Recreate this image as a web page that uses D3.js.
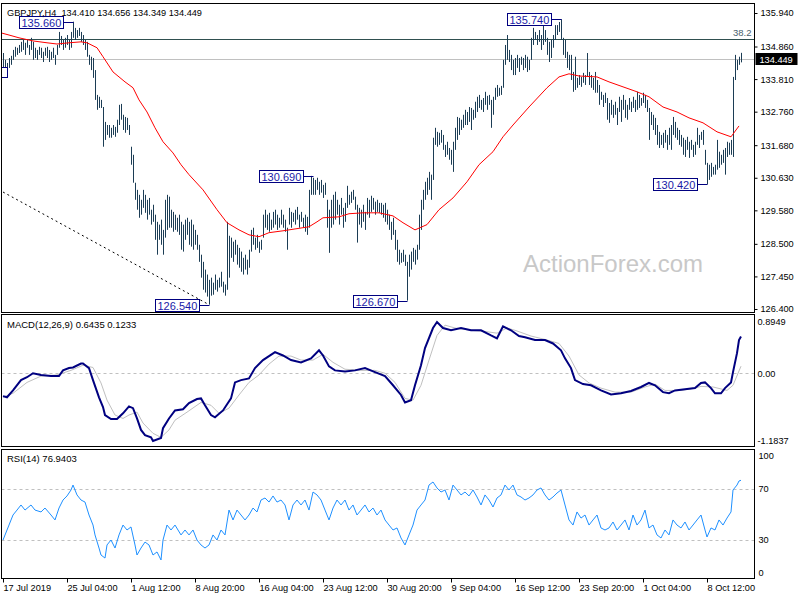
<!DOCTYPE html>
<html><head><meta charset="utf-8">
<script src="https://cdn.jsdelivr.net/npm/d3@7"></script>
<style>
body{margin:0;background:#fff}
svg{display:block}
text{font-family:"Liberation Sans",Arial,sans-serif}
</style>
</head><body><svg id="c" width="800" height="600"></svg>
<script>
// ---------------- DATA ----------------
const chartTitle = "GBPJPY,H4\u00A0\u00A0134.410 134.656 134.349 134.449";
const macdTitle = "MACD(12,26,9) 0.6435 0.1233";
const rsiTitle = "RSI(14) 76.9403";
const watermark = "ActionForex.com";

const high = [
134.65,134.43,134.33,134.49,134.56,134.75,134.85,134.82,134.91,135.01,
135.07,134.98,135.07,134.91,135.14,135.01,134.82,134.75,134.85,134.82,
134.69,134.82,134.85,134.75,134.69,134.82,134.59,134.91,135.33,135.20,
135.07,135.14,135.23,135.07,135.33,135.66,135.46,135.39,135.46,135.33,
135.23,135.07,135.01,134.59,134.53,134.49,134.10,133.30,133.24,133.14,
132.91,132.43,132.33,132.33,132.24,132.33,132.27,132.50,132.98,133.01,
132.66,132.59,132.56,132.33,131.63,131.37,130.47,130.24,130.08,129.92,
130.24,130.08,129.92,129.98,129.60,129.76,129.44,129.21,129.12,129.28,
128.95,129.92,130.08,130.02,129.60,129.53,129.44,129.34,129.44,129.21,
129.12,129.28,129.34,129.21,129.28,129.12,128.95,128.79,128.47,128.15,
127.92,127.67,127.51,127.34,127.41,127.25,127.51,127.34,127.41,127.60,
127.28,127.19,129.21,128.76,128.70,128.57,128.63,128.47,128.37,128.25,
128.05,128.15,127.99,128.31,128.95,129.02,128.70,128.79,128.57,128.63,
129.44,129.60,129.44,129.50,129.28,129.53,129.60,129.44,129.34,129.60,
129.44,129.28,129.02,129.66,129.53,129.50,129.60,129.69,129.44,129.53,
129.34,129.44,129.37,130.24,130.69,130.63,130.56,130.63,130.50,130.56,
130.40,130.47,129.92,129.60,129.92,130.08,130.18,129.92,129.76,129.98,
129.66,129.82,130.37,130.08,130.18,130.24,130.02,129.76,129.66,129.60,
129.76,129.53,129.98,129.92,130.05,129.98,129.86,129.92,129.82,129.82,
129.76,129.82,129.60,129.44,129.21,129.34,128.95,128.63,128.31,128.21,
128.31,128.15,127.92,128.15,128.25,128.37,128.31,128.47,129.44,129.92,
130.24,130.50,130.63,130.82,130.73,131.92,132.24,132.11,132.08,132.17,
132.01,131.69,131.79,131.59,131.53,131.79,132.24,132.59,132.56,132.50,
132.66,132.82,132.75,132.91,132.88,132.82,133.08,133.24,133.30,133.14,
133.20,133.40,133.27,133.30,133.14,133.24,133.53,133.62,133.53,133.59,
134.43,134.91,135.23,134.75,134.59,134.43,134.49,134.59,134.49,134.53,
134.49,134.59,134.53,134.43,135.14,135.46,135.33,135.23,135.39,135.23,
135.72,135.39,135.14,135.01,135.07,135.23,135.55,135.55,135.65,135.74,
135.14,135.07,134.69,134.59,134.59,134.04,134.53,133.85,133.94,133.88,
134.01,133.94,134.65,134.04,133.94,133.85,134.04,133.78,133.62,133.40,
133.30,133.37,133.20,133.04,133.14,132.98,133.08,132.88,133.24,133.14,
133.30,133.14,132.98,133.20,133.08,133.24,133.14,133.40,133.30,133.20,
133.37,133.30,133.14,132.88,132.75,132.66,132.56,132.33,132.11,132.01,
132.08,132.17,132.01,132.24,132.33,132.59,132.43,132.24,132.17,132.01,
131.92,131.85,131.95,131.79,131.85,131.69,131.79,132.24,132.01,132.11,
132.17,131.53,131.11,131.05,131.11,130.98,131.05,131.85,131.47,131.37,
131.53,131.59,131.79,131.76,131.85,133.88,134.59,134.43,134.53,134.656];

const low = [
134.20,133.88,133.94,134.17,134.27,134.43,134.53,134.59,134.65,134.69,
134.75,134.59,134.82,134.59,134.75,134.43,134.49,134.43,134.59,134.49,
134.36,134.56,134.49,134.36,134.43,134.49,134.27,134.59,134.82,134.91,
134.75,134.82,134.91,134.75,134.82,135.14,135.07,135.14,135.20,135.01,
134.91,134.75,134.53,134.27,134.10,133.85,133.14,132.82,132.88,132.88,
131.63,131.85,132.01,131.92,131.92,132.01,131.95,132.08,132.33,132.50,
132.17,132.08,132.17,132.01,131.05,130.47,129.92,129.60,129.34,129.44,
129.66,129.50,129.28,129.44,129.12,129.21,128.63,128.15,128.63,128.47,
128.15,128.70,128.95,129.02,129.02,128.89,128.95,128.89,128.79,128.31,
128.25,128.63,128.79,128.47,128.41,128.31,128.47,128.31,127.92,127.41,
127.02,126.93,126.80,126.54,126.83,126.86,127.02,126.96,127.09,127.12,
126.93,126.83,127.02,127.41,128.05,127.92,128.15,127.83,127.73,127.60,
127.51,127.67,127.51,127.73,128.25,128.47,128.31,128.37,128.21,128.31,
128.70,129.02,128.95,128.89,128.95,129.02,129.12,128.95,129.02,129.12,
129.02,128.89,128.31,129.12,129.02,129.21,129.12,129.28,129.02,129.21,
129.02,128.89,128.79,129.02,130.08,130.08,130.08,130.24,130.08,130.15,
129.98,130.08,129.02,128.21,129.02,129.12,129.28,129.44,129.12,129.44,
129.02,129.21,129.66,129.76,129.82,129.92,129.60,128.54,129.12,129.02,
129.21,128.95,129.44,129.34,129.53,129.60,129.44,129.53,129.50,129.44,
129.34,129.21,129.12,128.95,128.63,128.79,128.31,127.92,127.83,127.89,
127.92,127.79,126.67,127.44,127.67,127.92,127.83,127.99,128.31,128.95,
129.60,129.92,130.08,130.24,129.92,130.56,131.69,131.63,131.69,131.76,
131.53,131.30,131.37,131.21,131.05,130.82,131.53,131.85,132.01,132.17,
132.24,132.33,132.33,132.43,132.17,132.50,132.56,132.75,132.88,132.82,
132.75,132.98,132.82,132.98,132.24,132.66,133.14,133.24,133.27,133.30,
133.53,134.27,134.43,134.36,134.10,133.94,133.94,134.17,134.04,134.27,
134.10,134.17,134.04,134.10,134.43,134.91,135.07,134.91,135.01,134.75,
134.91,135.01,134.59,134.36,134.49,134.82,135.07,135.23,135.33,135.07,
134.59,134.49,134.17,134.10,133.78,133.40,133.46,133.53,133.62,133.56,
133.69,133.62,133.88,133.62,133.53,133.46,133.37,133.37,132.98,133.14,
132.91,133.04,132.50,132.40,132.66,132.56,132.66,132.33,132.75,132.43,
132.82,132.56,132.50,132.82,132.75,132.88,132.75,132.82,132.88,132.95,
133.04,132.88,132.75,131.85,132.33,132.17,132.01,131.69,131.59,131.69,
131.59,131.76,131.53,131.69,131.53,132.01,131.92,131.85,131.69,131.63,
131.37,131.30,131.53,131.27,131.53,131.30,131.37,131.69,131.59,131.85,
131.69,131.05,130.42,130.56,130.66,130.73,130.73,130.89,130.95,131.05,
131.11,130.73,131.30,131.37,131.37,131.30,133.78,134.10,134.27,134.349];

// moving average (red), [bar index, price]
const maPts = [[-1,135.30],[3,135.23],[8,135.14],[15,135.04],[22,134.98],[27,134.94],[33,134.98],[39,135.01],[42,134.98],[47,134.82],
[50,134.53],[55,134.04],[61,133.72],[65,133.53],[68,133.14],[72,132.75],[76,132.24],[80,131.79],[85,131.43],[89,131.05],
[93,130.73],[100,130.24],[107,129.60],[112,129.18],[118,128.95],[123,128.79],[128,128.73],[133,128.86],[140,128.92],[147,128.99],
[153,129.05],[157,129.21],[160,129.34],[168,129.37],[173,129.47],[180,129.50],[188,129.50],[195,129.40],[200,129.18],[206,128.95],
[212,129.12],[218,129.60],[225,129.98],[232,130.50],[238,131.05],[245,131.47],[250,131.95],[255,132.33],[263,132.91],[272,133.53],
[278,133.88],[283,133.98],[288,133.91],[297,133.88],[303,133.72],[310,133.56],[317,133.40],[323,133.24],[330,132.91],[337,132.75],
[343,132.56],[350,132.40],[357,132.11],[364,131.95],[368,132.30]];

// MACD main line (navy)
const macdPts = [[0,-0.40],[2,-0.42],[5,-0.30],[9,-0.12],[12,-0.07],[15,0.00],[19,-0.03],[24,-0.05],[28,-0.05],[30,0.05],
[33,0.09],[35,0.10],[39,0.17],[40,0.17],[43,0.09],[45,-0.12],[48,-0.42],[50,-0.59],[51,-0.73],[54,-0.80],
[57,-0.80],[60,-0.70],[63,-0.58],[65,-0.61],[67,-0.79],[69,-0.99],[71,-1.08],[74,-1.12],[75,-1.1837],[79,-1.13],
[80,-0.96],[83,-0.79],[86,-0.65],[90,-0.63],[93,-0.52],[97,-0.45],[99,-0.44],[101,-0.56],[104,-0.73],[106,-0.77],
[110,-0.65],[114,-0.44],[116,-0.16],[119,-0.12],[123,-0.09],[126,0.09],[130,0.23],[133,0.30],[136,0.37],[140,0.31],
[144,0.23],[149,0.19],[154,0.26],[158,0.40],[160,0.31],[163,0.12],[166,0.05],[171,0.03],[176,0.05],[181,0.09],
[186,0.02],[191,-0.05],[195,-0.21],[199,-0.38],[201,-0.51],[204,-0.47],[206,-0.21],[209,0.14],[211,0.44],[215,0.79],
[217,0.8949],[220,0.79],[224,0.75],[229,0.79],[234,0.75],[239,0.75],[244,0.66],[247,0.61],[250,0.82],[254,0.75],
[258,0.65],[261,0.63],[266,0.58],[271,0.58],[275,0.52],[279,0.40],[281,0.26],[284,0.09],[286,-0.12],[290,-0.19],
[294,-0.21],[299,-0.30],[304,-0.37],[309,-0.35],[314,-0.31],[319,-0.24],[323,-0.17],[326,-0.21],[330,-0.33],[333,-0.35],
[336,-0.30],[341,-0.28],[346,-0.26],[349,-0.17],[351,-0.16],[354,-0.26],[356,-0.35],[359,-0.35],[361,-0.26],[364,-0.16],
[365,0.02],[367,0.35],[368,0.58],[369,0.6435]];

// MACD signal line (silver)
const signalPts = [[0,-0.42],[5,-0.35],[12,-0.16],[19,-0.05],[27,-0.03],[34,0.05],[40,0.14],[45,0.10],[49,-0.17],[52,-0.47],
[56,-0.73],[60,-0.79],[63,-0.73],[67,-0.68],[70,-0.87],[75,-1.05],[79,-1.12],[83,-0.99],[86,-0.82],[92,-0.68],
[99,-0.51],[104,-0.56],[108,-0.70],[113,-0.61],[118,-0.38],[123,-0.16],[128,-0.03],[133,0.16],[138,0.30],[144,0.30],
[149,0.23],[155,0.23],[160,0.33],[165,0.19],[171,0.07],[179,0.05],[186,0.05],[191,0.00],[196,-0.16],[201,-0.44],
[205,-0.47],[209,-0.21],[213,0.23],[217,0.66],[221,0.84],[226,0.79],[234,0.75],[241,0.73],[247,0.70],[252,0.79],
[256,0.75],[264,0.65],[271,0.59],[278,0.52],[283,0.30],[288,-0.03],[293,-0.17],[299,-0.26],[306,-0.33],[314,-0.33],
[321,-0.24],[326,-0.19],[331,-0.30],[339,-0.30],[346,-0.26],[349,-0.23],[355,-0.24],[362,-0.30],[365,-0.21],[369,0.1233]];

// RSI(14)
const rsiPts = [[0,29.9],[3,41.7],[5,49.6],[7,53.5],[9,57.5],[11,53.5],[14,57.5],[16,53.5],[19,52.0],[21,55.1],
[24,49.6],[26,45.7],[28,55.1],[30,61.4],[32,64.6],[34,69.3],[35,73.2],[37,65.4],[39,61.4],[41,59.8],
[43,49.6],[45,41.7],[46,33.9],[48,23.6],[49,18.1],[51,15.7],[52,26.0],[54,29.9],[56,23.6],[58,33.9],
[60,41.7],[62,37.8],[64,40.2],[66,26.0],[67,18.1],[69,23.6],[71,28.3],[73,26.0],[75,18.1],[77,20.5],
[79,14.2],[80,29.9],[82,41.7],[84,37.8],[86,41.7],[89,33.9],[91,37.8],[93,33.9],[95,37.8],[97,29.9],
[99,26.0],[101,23.6],[103,26.0],[105,33.9],[107,29.9],[109,37.8],[111,33.9],[113,53.5],[115,45.7],[117,53.5],
[119,49.6],[121,45.7],[123,49.6],[125,55.1],[127,52.0],[129,61.4],[131,63.0],[133,59.8],[135,64.6],[137,59.8],
[139,61.4],[141,57.5],[143,45.7],[145,57.5],[147,61.4],[149,57.5],[151,61.4],[153,53.5],[155,67.7],[157,65.4],
[159,61.4],[161,53.5],[163,45.7],[165,55.1],[167,61.4],[169,57.5],[171,61.4],[173,53.5],[175,57.5],[177,49.6],
[179,53.5],[181,57.5],[183,52.0],[185,55.1],[187,49.6],[189,53.5],[191,45.7],[193,41.7],[195,37.8],[197,39.4],
[199,31.5],[201,26.0],[203,33.9],[205,41.7],[207,53.5],[209,57.5],[211,61.4],[213,73.2],[215,75.6],[217,70.9],
[219,67.7],[221,69.3],[223,61.4],[225,73.2],[227,69.3],[229,65.4],[231,67.7],[233,64.6],[235,69.3],[237,63.8],
[239,57.5],[241,65.4],[243,61.4],[245,55.9],[247,63.0],[249,65.4],[251,73.2],[253,69.3],[255,73.2],[257,65.4],
[259,63.8],[261,61.4],[263,63.0],[265,65.4],[267,69.3],[269,70.9],[271,65.4],[273,61.4],[275,63.8],[277,66.9],
[279,69.3],[281,57.5],[283,45.7],[285,41.7],[287,52.0],[289,47.2],[291,49.6],[293,41.7],[295,45.7],[297,49.6],
[299,39.4],[301,37.8],[303,39.4],[305,44.1],[307,37.8],[309,41.7],[311,45.7],[313,37.8],[315,49.6],[317,41.7],
[319,45.7],[321,53.5],[323,39.4],[325,41.7],[327,33.9],[329,31.5],[331,37.8],[333,33.9],[335,45.7],[337,41.7],
[339,39.4],[341,44.1],[343,37.8],[345,41.7],[347,45.7],[349,49.6],[351,37.8],[352,32.3],[354,39.4],[356,37.8],
[358,45.7],[360,41.7],[362,47.2],[364,52.0],[365,69.3],[367,73.2],[368,76.4],[369,76.94]];

// axes / annotations
const priceTicks = [135.940,134.860,133.810,132.760,131.680,130.630,129.580,128.500,127.450,126.400];
const macdTicks = [0.8949, 0, -1.1837];
const macdTickLabels = ["0.8949","0.00","-1.1837"];
const rsiTicks = [100,70,30,0];
const rsiLevels = [70,30];
const timeTickIdx = [0,32,64,96,128,160,192,224,256,288,320,352];
const timeTickLabels = ["17 Jul 2019","25 Jul 04:00","1 Aug 12:00","8 Aug 20:00","16 Aug 04:00","23 Aug 12:00","30 Aug 20:00","9 Sep 04:00","16 Sep 12:00","23 Sep 20:00","1 Oct 04:00","8 Oct 12:00"];
const fibLevel = 135.10, fibLabel = "38.2";
const lastPrice = 134.449;
const trendPts = [[0,130.17],[103,126.54]];
const swingIdx = [35,103,155,202,279,352];
const swingVal = [135.66,126.54,130.69,126.67,135.74,130.42];
const cutBox = [134.20,133.88];

// ---------------- DRAW ----------------
const svg = d3.select("#c");
const L = 1.5, R = 754.5;
const pMain = {t:3.5,b:312.5}, pMacd = {t:314.5,b:446.5}, pRsi = {t:449.5,b:578.5};

const x = d3.scaleLinear().domain([0,369]).range([3,741]);
const yP = d3.scaleLinear().domain([126.40,135.94]).range([309,13]);
const yM = d3.scaleLinear().domain([-1.1837,0.8949]).range([441,322]);
const yR = d3.scaleLinear().domain([0,100]).range([578,451]);
const px = i => Math.round(x(i)) + 0.5;

const defs = svg.append("defs");
[["cm",pMain],["cmacd",pMacd],["crsi",pRsi]].forEach(([id,p])=>{
  defs.append("clipPath").attr("id",id).append("rect")
    .attr("x",L+0.5).attr("y",p.t+0.5).attr("width",R-L-1).attr("height",p.b-p.t-1);
});

// watermark
svg.append("text").attr("x",523).attr("y",272).attr("font-size",24).attr("fill","#c8c8c8").text(watermark);

// main panel
const gm = svg.append("g").attr("clip-path","url(#cm)");
gm.append("line").attr("x1",L).attr("x2",R).attr("y1",Math.round(yP(fibLevel))+0.5).attr("y2",Math.round(yP(fibLevel))+0.5)
  .attr("stroke","#2f4f4f").attr("stroke-width",1);
gm.append("line").attr("x1",L).attr("x2",R).attr("y1",Math.round(yP(lastPrice))+0.5).attr("y2",Math.round(yP(lastPrice))+0.5)
  .attr("stroke","#c0c0c0").attr("stroke-width",1);
gm.append("line").attr("x1",x(trendPts[0][0])).attr("y1",yP(trendPts[0][1])).attr("x2",x(trendPts[1][0])).attr("y2",yP(trendPts[1][1]))
  .attr("stroke","#000").attr("stroke-width",1).attr("stroke-dasharray","2,3");
gm.selectAll("line.bar").data(high).enter().append("line").attr("class","bar")
  .attr("x1",(d,i)=>px(i)).attr("x2",(d,i)=>px(i))
  .attr("y1",d=>yP(d)).attr("y2",(d,i)=>yP(low[i]))
  .attr("stroke","#1c3d55").attr("stroke-width",1);
gm.append("path").datum(maPts).attr("fill","none").attr("stroke","#ff0000").attr("stroke-width",1)
  .attr("d",d3.line().x(d=>x(d[0])).y(d=>yP(d[1])));
// fib label
gm.append("text").attr("x",R-3).attr("y",Math.round(yP(fibLevel))-3).attr("text-anchor","end")
  .attr("font-size",9.5).attr("fill","#4a5f6e").text(fibLabel);
// cut-off label box at the left edge
gm.append("rect").attr("x",-40).attr("y",Math.round(yP(cutBox[0]))+0.5).attr("width",47.5)
  .attr("height",Math.round(yP(cutBox[1]))-Math.round(yP(cutBox[0])))
  .attr("fill","#fff").attr("stroke","#000080");
// swing labels
swingIdx.forEach((bi,k)=>{
  const v = swingVal[k];
  const yy = Math.round(yP(v)) + 0.5;
  const bx = px(bi);
  const right = bx - 10;
  const g = gm.append("g");
  const t = g.append("text").attr("font-size",11).attr("fill","#1a1aa8").attr("y",yy+4).text(v.toFixed(3));
  const w = t.node().getComputedTextLength();
  const boxW = Math.round(w + 4);
  g.insert("rect","text").attr("x",right-boxW).attr("y",yy-6).attr("width",boxW).attr("height",12)
    .attr("fill","#fff").attr("stroke","#000080").attr("stroke-width",1);
  t.attr("x",right-boxW+2);
  g.append("line").attr("x1",right).attr("x2",bx).attr("y1",yy).attr("y2",yy).attr("stroke","#000080");
});

// MACD panel
const gmc = svg.append("g").attr("clip-path","url(#cmacd)");
gmc.append("line").attr("x1",L).attr("x2",R).attr("y1",Math.round(yM(0))+0.5).attr("y2",Math.round(yM(0))+0.5)
  .attr("stroke","#c0c0c0").attr("stroke-dasharray","3,3");
gmc.append("path").datum(signalPts).attr("fill","none").attr("stroke","#c0c0c0").attr("stroke-width",1)
  .attr("d",d3.line().x(d=>x(d[0])).y(d=>yM(d[1])));
gmc.append("path").datum(macdPts).attr("fill","none").attr("stroke","#000080").attr("stroke-width",2)
  .attr("d",d3.line().x(d=>x(d[0])).y(d=>yM(d[1])));

// RSI panel
const gr = svg.append("g").attr("clip-path","url(#crsi)");
rsiLevels.forEach(v=>{
  gr.append("line").attr("x1",L).attr("x2",R).attr("y1",Math.round(yR(v))+0.5).attr("y2",Math.round(yR(v))+0.5)
    .attr("stroke","#c0c0c0").attr("stroke-dasharray","3,3");
});
gr.append("path").datum(rsiPts).attr("fill","none").attr("stroke","#1e90ff").attr("stroke-width",1)
  .attr("d",d3.line().x(d=>x(d[0])).y(d=>yR(d[1])));

// panel borders
[pMain,pMacd,pRsi].forEach(p=>{
  svg.append("rect").attr("x",L).attr("y",p.t).attr("width",R-L).attr("height",p.b-p.t)
    .attr("fill","none").attr("stroke","#000").attr("stroke-width",1);
});

// panel titles
svg.append("text").attr("x",7).attr("y",15.5).attr("font-size",9.2).attr("fill","#000").text(chartTitle);
svg.append("text").attr("x",7).attr("y",328).attr("font-size",9.5).attr("fill","#000").text(macdTitle);
svg.append("text").attr("x",7).attr("y",462).attr("font-size",9.5).attr("fill","#000").text(rsiTitle);

function styleAxis(g){
  g.select(".domain").remove();
  g.attr("font-family","Liberation Sans, Arial, sans-serif").attr("font-size",9.2);
  g.selectAll("text").attr("fill","#000");
  g.selectAll("line").attr("stroke","#000");
}
// price axis
const gpa = svg.append("g").attr("transform",`translate(${R},0)`)
  .call(d3.axisRight(yP).tickValues(priceTicks).tickSize(3).tickPadding(3).tickFormat(d3.format(".3f")));
styleAxis(gpa);
// macd axis
const gma = svg.append("g").attr("transform",`translate(${R},0)`)
  .call(d3.axisRight(yM).tickValues(macdTicks).tickSize(0).tickPadding(3).tickFormat((d,i)=>macdTickLabels[i]));
styleAxis(gma);
// rsi axis
const gra = svg.append("g").attr("transform",`translate(${R},0)`)
  .call(d3.axisRight(yR).tickValues(rsiTicks).tickSize(0).tickPadding(4).tickFormat(d3.format("d")));
styleAxis(gra);
gra.selectAll(".tick").attr("transform",d=>`translate(0,${Math.min(573,Math.max(456,yR(d)))})`);
// time axis
const gta = svg.append("g").attr("transform",`translate(0,${pRsi.b})`)
  .call(d3.axisBottom(x).tickValues(timeTickIdx).tickSize(4).tickPadding(2).tickFormat((d,i)=>timeTickLabels[i]));
styleAxis(gta);
gta.selectAll("text").attr("text-anchor","start").attr("dx",0);

// last price marker
const ly = Math.round(yP(lastPrice));
svg.append("rect").attr("x",R+1).attr("y",ly-6).attr("width",42).attr("height",12).attr("fill","#000");
svg.append("text").attr("x",R+5).attr("y",ly+3.5).attr("font-size",9.2).attr("fill","#fff").text(lastPrice.toFixed(3));
</script>
</body></html>
